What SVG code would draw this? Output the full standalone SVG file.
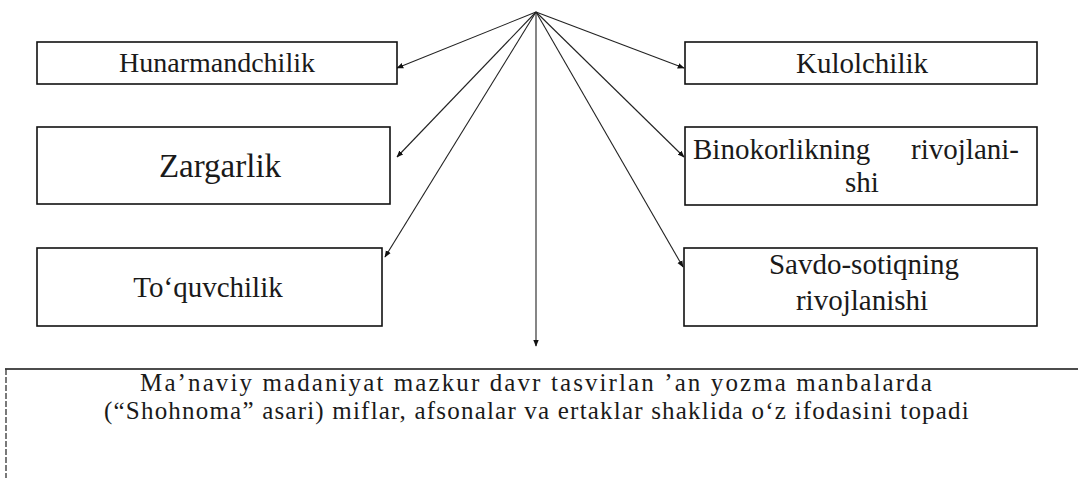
<svg xmlns="http://www.w3.org/2000/svg" width="1078" height="478" viewBox="0 0 1078 478">
<style>
.box{fill:#fff;stroke:#111;stroke-width:1.6}
.t{font-family:"Liberation Serif","Times New Roman",serif;fill:#1a1a1a;text-anchor:middle}
.c{stroke:#222;stroke-width:1.1;fill:none}
</style>
<defs>
<marker id="ah" viewBox="0 0 10 10" refX="9" refY="5" markerWidth="7" markerHeight="7" markerUnits="userSpaceOnUse" orient="auto">
<path d="M0,1 L10,5 L0,9 Z" fill="#111"/>
</marker>
</defs>
<rect width="1078" height="478" fill="#fff"/>
<g id="connectors">
<line class="c" x1="536" y1="12" x2="397" y2="68" marker-end="url(#ah)"/>
<line class="c" x1="536" y1="12" x2="397" y2="157" marker-end="url(#ah)"/>
<line class="c" x1="536" y1="12" x2="385" y2="257" marker-end="url(#ah)"/>
<line class="c" x1="536" y1="12" x2="684" y2="68" marker-end="url(#ah)"/>
<line class="c" x1="536" y1="12" x2="684" y2="157" marker-end="url(#ah)"/>
<line class="c" x1="536" y1="12" x2="683" y2="267" marker-end="url(#ah)"/>
<line class="c" x1="536" y1="12" x2="536" y2="346" marker-end="url(#ah)"/>
</g>
<g id="hunarmandchilik">
<rect class="box" x="37" y="42" width="360" height="42"/>
<text class="t" x="217" y="72" font-size="28">Hunarmandchilik</text>
</g>
<g id="zargarlik">
<rect class="box" x="37" y="127" width="353" height="77"/>
<text class="t" x="220" y="177" font-size="33">Zargarlik</text>
</g>
<g id="toquvchilik">
<rect class="box" x="37" y="248" width="345" height="78"/>
<text class="t" x="208" y="297" font-size="29">To‘quvchilik</text>
</g>
<g id="kulolchilik">
<rect class="box" x="685" y="42" width="352" height="42"/>
<text class="t" x="862" y="73" font-size="29">Kulolchilik</text>
</g>
<g id="binokorlik">
<rect class="box" x="685" y="127" width="352" height="78"/>
<text class="t" font-size="29"><tspan x="693" y="159" text-anchor="start">Binokorlikning</tspan><tspan x="1019" y="159" text-anchor="end">rivojlani-</tspan><tspan x="862" y="192">shi</tspan></text>
</g>
<g id="savdo">
<rect class="box" x="684" y="248" width="353" height="78"/>
<text class="t" font-size="29"><tspan x="864" y="274">Savdo-sotiqning</tspan><tspan x="862" y="310">rivojlanishi</tspan></text>
</g>
<g id="manaviy">
<line x1="5" y1="369" x2="1078" y2="369" stroke="#111" stroke-width="1.6"/>
<line x1="6" y1="369" x2="6" y2="478" stroke="#333" stroke-width="1.3" stroke-dasharray="6 2"/>
<text class="t" font-size="25" x="537" y="391" letter-spacing="2.1">Ma’naviy madaniyat mazkur davr tasvirlan ’an yozma manbalarda</text>
<text class="t" font-size="25" x="537" y="419" letter-spacing="1.2">(“Shohnoma” asari) miflar, afsonalar va ertaklar shaklida o‘z ifodasini topadi</text>
</g>
</svg>
